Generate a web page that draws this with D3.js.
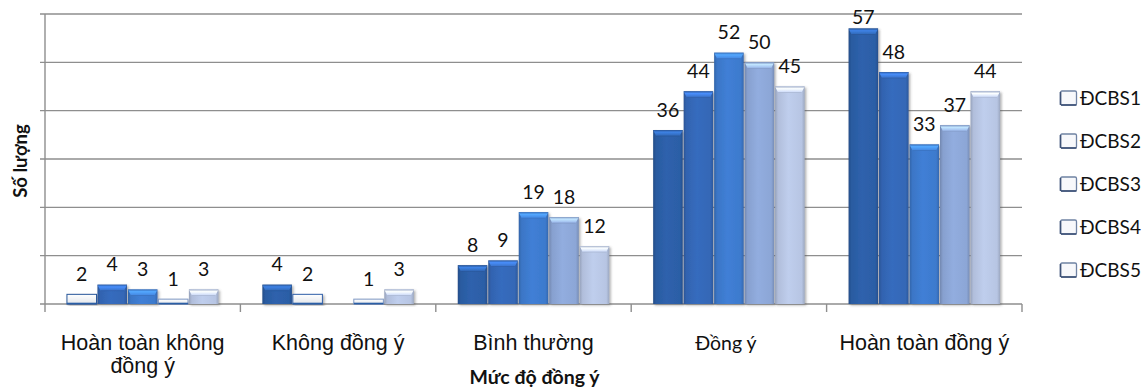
<!DOCTYPE html>
<html>
<head>
<meta charset="utf-8">
<script src="https://cdn.jsdelivr.net/npm/d3@7"></script>
<style>
  html, body { margin: 0; padding: 0; background: #fff; }
  svg { display: block; }
</style>
</head>
<body>
<svg id="chart" width="1146" height="389"></svg>
<script>
// Survey answers: number of respondents per agreement level, for each statement ĐCBS1–ĐCBS5
const categories = ["Hoàn toàn không đồng ý", "Không đồng ý", "Bình thường", "Đồng ý", "Hoàn toàn đồng ý"];
const seriesNames = ["ĐCBS1", "ĐCBS2", "ĐCBS3", "ĐCBS4", "ĐCBS5"];
const DCBS1 = [2, 4, 8, 36, 57];
const DCBS2 = [4, 2, 9, 44, 48];
const DCBS3 = [3, 0, 19, 52, 33];
const DCBS4 = [1, 1, 18, 50, 37];
const DCBS5 = [3, 3, 12, 45, 44];
const yTicks = [0, 10, 20, 30, 40, 50, 60];
const yTitle = "Số lượng";
const xTitle = "Mức độ đồng ý";

const seriesValues = [DCBS1, DCBS2, DCBS3, DCBS4, DCBS5];
const colors = ["#2c5ea6", "#3467b6", "#3d7acd", "#8ca6d6", "#b7c5e3"];

const svg = d3.select("#chart");
const M = { left: 45, right: 1022, top: 14, bottom: 304 };

const x = d3.scaleBand().domain(categories).range([M.left, M.right]);
const xs = d3.scaleBand().domain(seriesNames).range([0, x.bandwidth()])
  .paddingOuter(0.72).paddingInner(0.03);
const y = d3.scaleLinear().domain([0, 60]).range([M.bottom, M.top]);

const defs = svg.append("defs");
const shadow = defs.append("filter").attr("id", "barShadow")
  .attr("x", "-20%").attr("y", "-10%").attr("width", "150%").attr("height", "130%");
shadow.append("feDropShadow").attr("dx", 1.6).attr("dy", 1.4)
  .attr("stdDeviation", 1.2).attr("flood-color", "#555").attr("flood-opacity", 0.45);

// Horizontal shading for bar bodies, vertical shading for the bevelled tops
colors.forEach((c, i) => {
  const base = d3.color(c);
  const g = defs.append("linearGradient").attr("id", "body" + i)
    .attr("x1", 0).attr("x2", 1).attr("y1", 0).attr("y2", 0);
  g.append("stop").attr("offset", "0%").attr("stop-color", base.darker(0.55));
  g.append("stop").attr("offset", "10%").attr("stop-color", base.darker(0.1));
  g.append("stop").attr("offset", "45%").attr("stop-color", base.brighter(0.12));
  g.append("stop").attr("offset", "90%").attr("stop-color", base);
  g.append("stop").attr("offset", "100%").attr("stop-color", base.darker(0.45));

  const t = defs.append("linearGradient").attr("id", "top" + i)
    .attr("x1", 0).attr("x2", 0).attr("y1", 0).attr("y2", 1);
  t.append("stop").attr("offset", "0%").attr("stop-color", base.darker(0.3));
  t.append("stop").attr("offset", "35%").attr("stop-color", base.brighter(0.9));
  t.append("stop").attr("offset", "100%").attr("stop-color", base.brighter(0.25));
});
const pale = defs.append("linearGradient").attr("id", "pale")
  .attr("x1", 0).attr("x2", 0).attr("y1", 0).attr("y2", 1);
pale.append("stop").attr("offset", "0%").attr("stop-color", "#ffffff");
pale.append("stop").attr("offset", "100%").attr("stop-color", "#e2e5ea");

// Gridlines with short outward ticks on the value axis
svg.append("g").selectAll("line").data(yTicks).join("line")
  .attr("x1", M.left - 5).attr("x2", M.right)
  .attr("y1", d => y(d)).attr("y2", d => y(d))
  .attr("stroke", "#8e8e8e").attr("stroke-width", 1.4);

// Value axis line
svg.append("line")
  .attr("x1", M.left).attr("x2", M.left)
  .attr("y1", M.top).attr("y2", M.bottom + 8)
  .attr("stroke", "#8e8e8e").attr("stroke-width", 1.4);

// Category separators below the baseline
const sepX = categories.map(c => x(c) + x.step()).slice(0, -1).concat([M.right]);
svg.append("g").selectAll("line").data(sepX).join("line")
  .attr("x1", d => d).attr("x2", d => d)
  .attr("y1", M.bottom).attr("y2", M.bottom + 8)
  .attr("stroke", "#8e8e8e").attr("stroke-width", 1.4);

// Bars
const rows = [];
categories.forEach((c, ci) => {
  seriesNames.forEach((s, si) => {
    rows.push({ cat: c, series: s, si, value: seriesValues[si][ci] });
  });
});

const barG = svg.append("g");
rows.filter(d => d.value > 0).forEach(d => {
  const bx = x(d.cat) + xs(d.series);
  const bw = xs.bandwidth();
  const by = y(d.value);
  const bh = y(0) - by;
  const g = barG.append("g").attr("filter", "url(#barShadow)");
  if (bh < 12) {
    g.append("rect").attr("x", bx).attr("y", by).attr("width", bw).attr("height", bh)
      .attr("fill", "url(#pale)")
      .attr("stroke", d3.color(colors[d.si]).darker(0.2)).attr("stroke-width", 1);
    g.append("line").attr("x1", bx).attr("x2", bx + bw)
      .attr("y1", by + bh - 0.5).attr("y2", by + bh - 0.5)
      .attr("stroke", colors[0]).attr("stroke-width", 1.6);
    return;
  }
  g.append("rect").attr("x", bx).attr("y", by).attr("width", bw).attr("height", bh)
    .attr("fill", `url(#body${d.si})`);
  const th = 6;
  g.append("path")
    .attr("d", `M${bx},${by} H${bx + bw} L${bx + bw - 3},${by + th} H${bx + 3} Z`)
    .attr("fill", `url(#top${d.si})`);
  g.append("line").attr("x1", bx + 3).attr("x2", bx + bw - 3)
    .attr("y1", by + th).attr("y2", by + th)
    .attr("stroke", d3.color(colors[d.si]).darker(0.35)).attr("stroke-width", 0.8).attr("opacity", 0.7);
});

// Data labels
svg.append("g").selectAll("text").data(rows.filter(d => d.value > 0)).join("text")
  .attr("x", d => x(d.cat) + xs(d.series) + xs.bandwidth() / 2)
  .attr("y", d => Math.max(y(d.value) - 20, 17))
  .attr("dy", "0.35em")
  .attr("text-anchor", "middle")
  .attr("font-family", "Lato, 'Open Sans', sans-serif")
  .attr("font-size", 19.5)
  .attr("fill", "#111")
  .text(d => d.value);

// Category labels, wrapped to the band width
const catG = svg.append("g")
  .attr("font-family", "'Liberation Sans', Arial, sans-serif")
  .attr("fill", "#111").attr("text-anchor", "middle");
categories.forEach(c => {
  const small = c === "Đồng ý";
  const t = catG.append("text")
    .attr("x", x(c) + x.bandwidth() / 2 - (small ? 3 : 0))
    .attr("y", 350)
    .attr("font-size", small ? 19.5 : 21.5)
    .attr("font-family", small ? "Lato, sans-serif" : null);
  const words = c.split(" ");
  let line = [];
  let tspan = t.append("tspan").attr("x", t.attr("x")).attr("dy", 0);
  words.forEach(w => {
    line.push(w);
    tspan.text(line.join(" "));
    if (tspan.node().getComputedTextLength() > x.bandwidth() - 4 && line.length > 1) {
      line.pop();
      tspan.text(line.join(" "));
      line = [w];
      tspan = t.append("tspan").attr("x", t.attr("x")).attr("dy", 23).text(w);
    }
  });
});

// Axis titles
svg.append("text")
  .attr("transform", `translate(21,${(M.top + M.bottom) / 2 + 2}) rotate(-90)`)
  .attr("text-anchor", "middle").attr("dy", "0.35em")
  .attr("font-family", "Lato, sans-serif").attr("font-weight", "bold")
  .attr("font-size", 18.5).attr("fill", "#111")
  .text(yTitle);

svg.append("text")
  .attr("x", (M.left + M.right) / 2 + 1).attr("y", 377).attr("dy", "0.35em")
  .attr("text-anchor", "middle")
  .attr("font-family", "Lato, sans-serif").attr("font-weight", "bold")
  .attr("font-size", 19.5).attr("fill", "#111")
  .text(xTitle);

// Legend
const legend = svg.append("g").attr("transform", "translate(1060,98)");
seriesNames.forEach((s, i) => {
  const g = legend.append("g").attr("transform", `translate(0,${i * 43})`);
  g.append("rect").attr("x", 0.5).attr("y", -7).attr("width", 16).attr("height", 14)
    .attr("rx", 1.5)
    .attr("fill", "#f7f8fb").attr("stroke", "#6f82a3").attr("stroke-width", 1.3);
  g.append("line").attr("x1", 0.5).attr("x2", 0.5).attr("y1", -6).attr("y2", 7)
    .attr("stroke", "#3e5277").attr("stroke-width", 1.6);
  g.append("line").attr("x1", 1).attr("x2", 16.5).attr("y1", 7).attr("y2", 7)
    .attr("stroke", "#3e5277").attr("stroke-width", 1.6);
  g.append("text").attr("x", 20).attr("y", 0).attr("dy", "0.35em")
    .attr("font-family", "Lato, sans-serif").attr("font-size", 19)
    .attr("fill", "#111").text(s);
});
</script>
</body>
</html>
